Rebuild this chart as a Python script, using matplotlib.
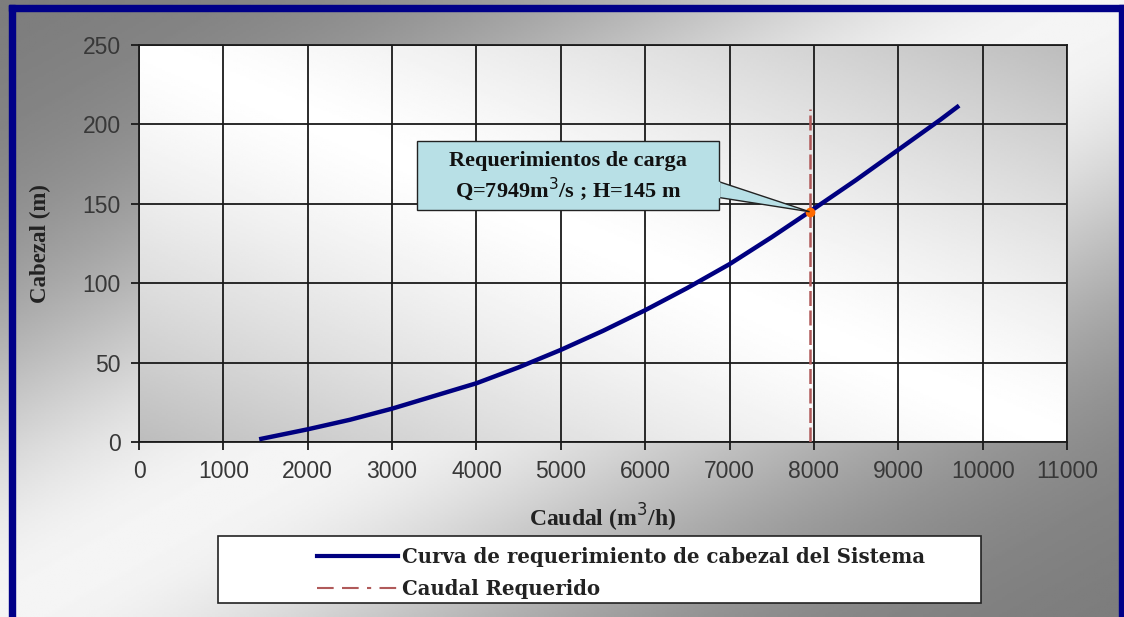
import numpy as np
import matplotlib.pyplot as plt
from matplotlib.patches import Rectangle, Polygon
from matplotlib.lines import Line2D

# system head curve (caudal m3/h, cabezal m)
caudal = [1450, 2000, 2500, 3000, 3500, 4000, 4500, 5000, 5500, 6000,
          6500, 7000, 7500, 7949, 8500, 9000, 9500, 9700]
cabezal = [2, 8, 14, 21, 29, 37, 47, 58, 70, 83,
           97, 112, 129, 145, 165, 184, 203, 211]

# required flow / operating point
q_req = 7949
h_req = 145
h_req_top = 210

x_ticks = list(range(0, 11001, 1000))
y_ticks = list(range(0, 251, 50))

serif = "Liberation Serif"
sans = "Liberation Sans"
W, H = 1124, 617

fig = plt.figure(figsize=(W / 100, H / 100), dpi=100)

# figure background: diagonal grey gradient, light band across the middle
bg = fig.add_axes([0, 0, 1, 1], zorder=-10)
gx, gy = np.meshgrid(np.linspace(0, 1, 400), np.linspace(0, 1, 300))
u = gx + gy
shade = 0.48 + 0.48 * np.exp(-((u - 1.0) / 0.5) ** 2)
bg.imshow(shade, cmap="gray", vmin=0, vmax=1, extent=[0, 1, 0, 1],
          aspect="auto", origin="upper")
bg.set_axis_off()

# navy frame (left, top, right)
navy = "#000088"
fig.patches.append(Rectangle((9 / W, 0), 6 / W, 1 - 5 / H,
                             transform=fig.transFigure, color=navy, zorder=5))
fig.patches.append(Rectangle((9 / W, 1 - 11 / H), 1 - 9 / W, 6 / H,
                             transform=fig.transFigure, color=navy, zorder=5))
fig.patches.append(Rectangle((1 - 5 / W, 0), 5 / W, 1 - 5 / H,
                             transform=fig.transFigure, color=navy, zorder=5))

ax = fig.add_axes([139 / W, 1 - 442 / H, (1067 - 139) / W, (442 - 45) / H])
ax.set_xlim(0, 11000)
ax.set_ylim(0, 250)

# plot area gradient: white on the anti-diagonal, grey in two corners
px, py = np.meshgrid(np.linspace(0, 1, 300), np.linspace(1, 0, 200))
pu = px + py
pshade = 1.0 - 0.26 * np.abs(pu - 1.0) ** 1.3
ax.imshow(pshade, cmap="gray", vmin=0, vmax=1, extent=[0, 11000, 0, 250],
          aspect="auto", origin="upper", zorder=0)

ax.set_xticks(x_ticks)
ax.set_yticks(y_ticks)
ax.grid(True, color="#1a1a1a", linewidth=1.3, zorder=1)
ax.set_axisbelow(True)
for side in ["top", "right", "left", "bottom"]:
    ax.spines[side].set_color("#1a1a1a")
    ax.spines[side].set_linewidth(1.3)
ax.tick_params(direction="out", length=6, width=1.3, color="#1a1a1a",
               labelsize=16.5, labelcolor="#383838", pad=7)
for lbl in ax.get_xticklabels() + ax.get_yticklabels():
    lbl.set_fontfamily(sans)

ax.plot(caudal, cabezal, color="#000080", linewidth=3.2, zorder=4,
        solid_joinstyle="round")
ax.plot([q_req, q_req], [0, h_req_top], color="#b05a5a", linewidth=1.8,
        dashes=(6, 1.8), zorder=3)
ax.plot([q_req], [h_req], marker="o", color="#ff6a00", markersize=6, zorder=6)

ax.set_xlabel("Caudal (m$^3$/h)", fontfamily=serif, fontweight="bold",
              fontsize=17, color="#222222")
ax.xaxis.set_label_coords(0.5, -0.15)
ax.set_ylabel("Cabezal (m)", fontfamily=serif, fontweight="bold",
              fontsize=16.5, color="#222222")
ax.yaxis.set_label_coords(-0.095, 0.5)

# callout box with pointer to the operating point
box_color = "#b8e0e6"
box_x0, box_x1 = 3300, 6870
box_y0, box_y1 = 146, 189.5
pointer = Polygon([[box_x1, 164], [q_req, h_req], [box_x1, 154]], closed=True,
                  facecolor=box_color, edgecolor="#222222", linewidth=1, zorder=7)
ax.add_patch(pointer)
box = Rectangle((box_x0, box_y0), box_x1 - box_x0, box_y1 - box_y0,
                facecolor=box_color, edgecolor="#222222", linewidth=1, zorder=7)
ax.add_patch(box)
ax.plot([box_x1 - 8, box_x1 - 8], [154.6, 163.4], color=box_color,
        linewidth=2.5, zorder=8)
ax.text((box_x0 + box_x1) / 2, box_y1 - 12.5, "Requerimientos de carga",
        ha="center", va="center", fontfamily=serif, fontweight="bold",
        fontsize=16, color="#111111", zorder=9)
ax.text((box_x0 + box_x1) / 2, box_y0 + 13, "Q=7949m$^3$/s ; H=145 m",
        ha="center", va="center", fontfamily=serif, fontweight="bold",
        fontsize=16, color="#111111", zorder=9)

# legend: white framed box with the entries drawn inside
fig.patches.append(Rectangle((218 / W, 1 - 603 / H), (981 - 218) / W, 67 / H,
                             transform=fig.transFigure, facecolor="white",
                             edgecolor="#222222", linewidth=1.2, zorder=2))
handles = [Line2D([], [], color="#000080", linewidth=3),
           Line2D([], [], color="#b05a5a", linewidth=1.5, dashes=(8, 4, 8, 4, 2, 4))]
labels = ["Curva de requerimiento de cabezal del Sistema", "Caudal Requerido"]
leg = fig.legend(handles, labels, loc="upper left",
                 bbox_to_anchor=(307 / W, 1 - 537 / H),
                 frameon=False, handlelength=4.1, handletextpad=0.2,
                 borderpad=0.0, labelspacing=0.6,
                 prop={"family": "DejaVu Serif", "weight": "bold", "size": 14.2})
leg.set_zorder(3)
for t in leg.get_texts():
    t.set_color("#222222")

fig.savefig("out.png", dpi=100)
